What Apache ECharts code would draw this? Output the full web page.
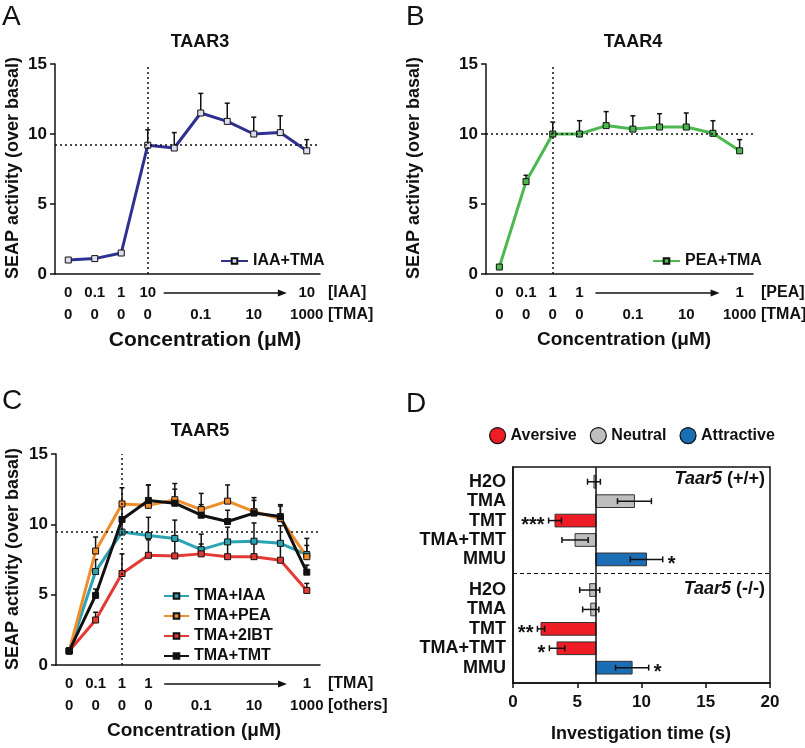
<!DOCTYPE html>
<html><head><meta charset="utf-8">
<script src="https://cdn.jsdelivr.net/npm/echarts@6/dist/echarts.min.js"></script>
<style>html,body{margin:0;padding:0;background:#fff}#c{width:805px;height:748px}</style>
</head><body><div id="c"></div>
<script>
// ---------- DATA ----------
const catKeys = ['p0','p1','p2','p3','p4','p5','p6','p7','p8','p9'];
const yTicks = [0, 5, 10, 15];

// Panel A (TAAR3)
const aRow1 = ['0','0.1','1','10','','','','','','10'];
const aRow2 = ['0','0','0','0','','0.1','','10','','1000'];
const aValues = [1.0, 1.1, 1.5, 9.2, 9.0, 11.5, 10.9, 10.0, 10.1, 8.8];
const aErrTop = [null, null, null, 10.3, 10.1, 12.9, 12.2, 11.2, 11.3, 9.6];
const aRef = 9.2;

// Panel B (TAAR4)
const bRow1 = ['0','0.1','1','1','','','','','','1'];
const bRow2 = ['0','0','0','0','','0.1','','10','','1000'];
const bValues = [0.5, 6.6, 10.0, 10.0, 10.6, 10.35, 10.5, 10.5, 10.05, 8.8];
const bErrTop = [null, 7.05, 10.85, 10.95, 11.6, 11.3, 11.45, 11.5, 10.95, 9.6];
const bRef = 10.0;

// Panel C (TAAR5)
const cRow1 = ['0','0.1','1','1','','','','','','1'];
const cRow2 = ['0','0','0','0','','0.1','','10','','1000'];
const cIAA    = [1.0, 6.65, 9.45, 9.2, 9.0, 8.2, 8.75, 8.8, 8.65, 7.85];
const cIAAErr = [null, 7.5, 10.5, 10.5, 10.3, 9.3, 9.8, 10.1, 9.9, 8.5];
const cPEA    = [1.0, 8.1, 11.45, 11.35, 11.75, 11.05, 11.65, 10.9, 10.4, 7.7];
const cPEAErr = [null, 9.1, 12.6, 12.8, 12.9, 12.2, 12.8, 11.7, 11.4, 9.0];
const c2IBT    = [1.0, 3.2, 6.5, 7.8, 7.75, 7.9, 7.7, 7.7, 7.45, 5.3];
const c2IBTErr = [null, 3.75, 7.9, 8.9, 8.8, 8.6, 8.7, 8.7, 8.5, 5.8];
const cTMT    = [1.0, 4.95, 10.35, 11.7, 11.5, 10.65, 10.2, 10.8, 10.55, 6.6];
const cTMTErr = [null, 5.4, 11.3, 12.8, 12.5, 11.4, 11.0, 11.9, 11.3, 7.1];
const cRef = 9.45;

// Panel D (behaviour)
const dCats = ['H2O', 'TMA', 'TMT', 'TMA+TMT', 'MMU'];
const dWT = [6.3, 9.45, 3.27, 4.83, 10.39];
const dWTErr = [0.5, 1.32, 0.5, 1.02, 1.26];
const dWTClass = ['Neutral', 'Neutral', 'Aversive', 'Neutral', 'Attractive'];
const dWTStars = ['', '', '***', '', '*'];
const dKO = [5.97, 6.05, 2.18, 3.43, 9.27];
const dKOErr = [0.78, 0.63, 0.28, 0.6, 1.29];
const dKOClass = ['Neutral', 'Neutral', 'Aversive', 'Aversive', 'Attractive'];
const dKOStars = ['', '', '**', '*', '*'];
const dBase = 6.45;
const dXTicks = [0, 5, 10, 15, 20];

// ---------- LAYOUT / STYLE ----------
const FF = "'Liberation Sans', Arial, sans-serif";
const INK = '#111';
const groupStart = [0, 5.58];      // row positions of the two genotype groups
const sepPos = 4.74;               // dashed separator
const classColor = {Aversive: '#ee1c24', Neutral: '#bebebe', Attractive: '#1b6db5'};

const chart = echarts.init(document.getElementById('c'), null, {renderer: 'canvas'});

function catAxis(g, r1, r2) {
  return {
    type: 'category', gridIndex: g, data: catKeys,
    axisLine: {onZero: false, lineStyle: {color: INK, width: 1.5}},
    axisTick: {alignWithLabel: true, length: 5, lineStyle: {color: INK, width: 1.5}},
    axisLabel: {
      interval: 0, color: INK, fontFamily: FF, fontWeight: 'bold', fontSize: 15,
      lineHeight: 22, margin: 8,
      formatter: (v, i) => (r1[i] || ' ') + '\n' + (r2[i] || ' ')
    },
    splitLine: {show: false}
  };
}
function valAxis(g) {
  return {
    type: 'value', gridIndex: g, min: yTicks[0], max: yTicks[yTicks.length - 1], interval: 5,
    axisLine: {show: true, onZero: false, lineStyle: {color: INK, width: 1.5}},
    axisTick: {show: true, length: 5, lineStyle: {color: INK, width: 1.5}},
    axisLabel: {color: INK, fontFamily: FF, fontWeight: 'bold', fontSize: 17, margin: 8},
    splitLine: {show: false}
  };
}
function refLines(ref, key) {
  return {
    silent: true, symbol: 'none', label: {show: false}, animation: false,
    lineStyle: {type: [2, 3], color: INK, width: 1.5},
    data: [{yAxis: ref}, {xAxis: key}]
  };
}
function lineSeries(name, g, data, color, fill, markLine) {
  const s = {
    name, type: 'line', xAxisIndex: g, yAxisIndex: g, data,
    symbol: 'rect', symbolSize: 6, z: 3,
    lineStyle: {color, width: 3},
    itemStyle: {color: fill, borderColor: INK, borderWidth: 1}
  };
  if (markLine) s.markLine = markLine;
  return s;
}
function errSeries(g, values, tops) {
  return {
    type: 'custom', xAxisIndex: g, yAxisIndex: g, z: 2, silent: true,
    encode: {x: 0, y: [1, 2]},
    data: values.map((v, i) => [i, v, tops[i]]).filter(d => d[2] != null),
    renderItem: (p, api) => {
      const a = api.coord([api.value(0), api.value(1)]);
      const b = api.coord([api.value(0), api.value(2)]);
      return {type: 'group', children: [
        {type: 'line', shape: {x1: a[0], y1: a[1], x2: b[0], y2: b[1]}, style: {stroke: INK, lineWidth: 1.5}},
        {type: 'line', shape: {x1: b[0] - 2.5, y1: b[1], x2: b[0] + 2.5, y2: b[1]}, style: {stroke: INK, lineWidth: 1.5}}
      ]};
    }
  };
}

// D rows
const dRows = [];
[[dWT, dWTErr, dWTClass, dWTStars], [dKO, dKOErr, dKOClass, dKOStars]].forEach((grp, gi) => {
  dCats.forEach((c, i) => {
    dRows.push({name: c, pos: groupStart[gi] + i, v: grp[0][i], e: grp[1][i], cls: grp[2][i], star: grp[3][i]});
  });
});
const dLabelMap = {};
dRows.forEach(r => { dLabelMap[r.pos.toFixed(2)] = r.name; });

function dBarSeries(cls) {
  return {
    name: cls, type: 'custom', xAxisIndex: 3, yAxisIndex: 3, z: 2,
    itemStyle: {color: classColor[cls], borderColor: '#333', borderWidth: 1},
    encode: {x: 0, y: 1},
    data: dRows.filter(r => r.cls === cls).map(r => [r.v, r.pos]),
    renderItem: (p, api) => {
      const a = api.coord([dBase, api.value(1)]);
      const b = api.coord([api.value(0), api.value(1)]);
      const h = 12.7;
      return {type: 'rect',
        shape: {x: Math.min(a[0], b[0]), y: a[1] - h / 2, width: Math.abs(b[0] - a[0]), height: h},
        style: {fill: classColor[cls], stroke: '#333', lineWidth: 1}};
    }
  };
}
const dErr = {
  type: 'custom', xAxisIndex: 3, yAxisIndex: 3, z: 4, silent: true,
  encode: {x: 0, y: 1},
  data: dRows.map(r => [r.v, r.pos, r.e]),
  renderItem: (p, api) => {
    const v = api.value(0), y = api.value(1), e = api.value(2), star = dRows[p.dataIndex].star;
    const l = api.coord([v - e, y]), rr = api.coord([v + e, y]);
    const ch = [
      {type: 'line', shape: {x1: l[0], y1: l[1], x2: rr[0], y2: rr[1]}, style: {stroke: INK, lineWidth: 1.5}},
      {type: 'line', shape: {x1: l[0], y1: l[1] - 3, x2: l[0], y2: l[1] + 3}, style: {stroke: INK, lineWidth: 1.5}},
      {type: 'line', shape: {x1: rr[0], y1: rr[1] - 3, x2: rr[0], y2: rr[1] + 3}, style: {stroke: INK, lineWidth: 1.5}}
    ];
    if (star) {
      const left = v < dBase;
      ch.push({type: 'text', x: left ? l[0] - 4 : rr[0] + 5, y: l[1] + 5,
        style: {text: star, textAlign: left ? 'right' : 'left', textVerticalAlign: 'middle',
          font: 'bold 20px ' + FF, fill: INK}});
    }
    return {type: 'group', children: ch};
  }
};

const lgText = {fontFamily: FF, fontWeight: 'bold', fontSize: 16, color: INK};
const option = {
  animation: false,
  backgroundColor: '#fff',
  grid: [
    {left: 55, top: 64, width: 265, height: 210},
    {left: 486, top: 64, width: 267, height: 210},
    {left: 56, top: 454, width: 264, height: 211},
    {left: 513, top: 467, width: 257, height: 216, show: true, borderColor: INK, borderWidth: 1.5}
  ],
  xAxis: [
    catAxis(0, aRow1, aRow2), catAxis(1, bRow1, bRow2), catAxis(2, cRow1, cRow2),
    {type: 'value', gridIndex: 3, min: dXTicks[0], max: dXTicks[dXTicks.length - 1], interval: 5,
     axisLine: {onZero: false, lineStyle: {color: INK, width: 1.5}},
     axisTick: {show: true, length: 5, lineStyle: {color: INK, width: 1.5}},
     axisLabel: {color: INK, fontFamily: FF, fontWeight: 'bold', fontSize: 17, margin: 11},
     splitLine: {show: false}}
  ],
  yAxis: [
    valAxis(0), valAxis(1), valAxis(2),
    {type: 'value', gridIndex: 3, inverse: true, min: -0.76, max: 10.37,
     axisLine: {show: true, onZero: false, lineStyle: {color: INK, width: 1.5}},
     axisTick: {show: false},
     axisLabel: {color: INK, fontFamily: FF, fontWeight: 'bold', fontSize: 18, margin: 7,
       customValues: dRows.map(r => r.pos),
       formatter: v => dLabelMap[Number(v).toFixed(2)] || ''},
     splitLine: {show: false}}
  ],
  legend: [
    {data: ['IAA+TMA'], left: 220, top: 253, padding: 0, itemWidth: 27, itemHeight: 7, textStyle: lgText},
    {data: ['PEA+TMA'], left: 652, top: 253, padding: 0, itemWidth: 27, itemHeight: 7, textStyle: lgText},
    {data: ['TMA+IAA', 'TMA+PEA', 'TMA+2IBT', 'TMA+TMT'], orient: 'vertical', left: 163, top: 587, padding: 0,
     itemWidth: 25, itemHeight: 7, itemGap: 2,
     textStyle: Object.assign({lineHeight: 18}, lgText)},
    {data: ['Aversive', 'Neutral', 'Attractive'], left: 489, top: 427, padding: 0, icon: 'circle',
     itemWidth: 16, itemHeight: 16, itemGap: 13,
     itemStyle: {borderColor: INK, borderWidth: 1.2},
     textStyle: lgText}
  ],
  series: [
    lineSeries('IAA+TMA', 0, aValues, '#2f3191', '#dcdcf0', refLines(aRef, 'p3')),
    errSeries(0, aValues, aErrTop),
    lineSeries('PEA+TMA', 1, bValues, '#4cb84f', '#4cb84f', refLines(bRef, 'p2')),
    errSeries(1, bValues, bErrTop),
    lineSeries('TMA+IAA', 2, cIAA, '#2ba3b3', '#2ba3b3', refLines(cRef, 'p2')),
    lineSeries('TMA+PEA', 2, cPEA, '#f08d2c', '#f08d2c'),
    lineSeries('TMA+2IBT', 2, c2IBT, '#e33a36', '#e33a36'),
    lineSeries('TMA+TMT', 2, cTMT, '#111111', '#111111'),
    errSeries(2, cIAA, cIAAErr), errSeries(2, cPEA, cPEAErr),
    errSeries(2, c2IBT, c2IBTErr), errSeries(2, cTMT, cTMTErr),
    dBarSeries('Aversive'),
    Object.assign(dBarSeries('Neutral'), {
      markLine: {silent: true, symbol: 'none', label: {show: false}, animation: false,
        data: [
          {xAxis: dBase, lineStyle: {type: 'solid', color: INK, width: 1.5}},
          {yAxis: sepPos, lineStyle: {type: [4, 3], color: INK, width: 1.2}}
        ]}
    }),
    dBarSeries('Attractive'),
    dErr
  ]
};
chart.setOption(option);

// ---------- annotations ----------
const g = [];
function txt(text, x, y, font, align, extra) {
  return Object.assign({type: 'text', x, y, silent: true,
    style: {text, font: font + ' ' + FF, fill: INK, textAlign: align || 'center', textVerticalAlign: 'middle'}}, extra || {});
}
// panel letters
g.push(txt('A', 2, 17, '28px', 'left'));
g.push(txt('B', 406, 17, '28px', 'left'));
g.push(txt('C', 2, 401, '28px', 'left'));
g.push(txt('D', 406, 404, '28px', 'left'));
// panel titles
g.push(txt('TAAR3', 200, 42, 'bold 18px'));
g.push(txt('TAAR4', 633, 42, 'bold 18px'));
g.push(txt('TAAR5', 200, 431, 'bold 18px'));
// y axis titles
const yt = 'SEAP activity (over basal)';
g.push(txt(yt, 13, 168, 'bold 18px', 'center', {rotation: Math.PI / 2}));
g.push(txt(yt, 414, 168, 'bold 18px', 'center', {rotation: Math.PI / 2}));
g.push(txt(yt, 13, 559, 'bold 18px', 'center', {rotation: Math.PI / 2}));
// x axis titles
g.push(txt('Concentration (μM)', 205, 340, 'bold 21px'));
g.push(txt('Concentration (μM)', 624, 340, 'bold 19px'));
g.push(txt('Concentration (μM)', 194, 731, 'bold 19px'));
g.push(txt('Investigation time (s)', 641, 734, 'bold 18px'));
// D genotype labels
function geno(t, y) {
  return {type: 'text', x: 765, y, silent: true,
    style: {text: '{i|Taar5} ' + t, textAlign: 'right', textVerticalAlign: 'middle',
      font: 'bold 18px ' + FF, fill: INK,
      rich: {i: {fontStyle: 'italic', fontWeight: 'bold', fontSize: 18, fontFamily: FF, fill: INK}}}};
}
g.push(geno('(+/+)', 479));
g.push(geno('(-/-)', 589));

// bracket labels + arrows
const brackets = [['[IAA]', '[TMA]'], ['[PEA]', '[TMA]'], ['[TMA]', '[others]']];
[0, 1, 2].forEach(gi => {
  const p3 = chart.convertToPixel({xAxisIndex: gi, yAxisIndex: gi}, [3, 0]);
  const p4 = chart.convertToPixel({xAxisIndex: gi, yAxisIndex: gi}, [4, 0]);
  const p9 = chart.convertToPixel({xAxisIndex: gi, yAxisIndex: gi}, [9, 0]);
  const step = p4[0] - p3[0];
  const y1 = p3[1] + 19, y2 = p3[1] + 41;
  const xr = p9[0] + step * 0.5 + 8;
  g.push(txt(brackets[gi][0], xr, y1, 'bold 16px', 'left'));
  g.push(txt(brackets[gi][1], xr, y2, 'bold 16px', 'left'));
  const xa = p3[0] + step * 0.6, xb = p3[0] + step * 5.25;
  g.push({type: 'line', silent: true, shape: {x1: xa, y1: y1, x2: xb - 6, y2: y1}, style: {stroke: INK, lineWidth: 1.5}});
  g.push({type: 'polygon', silent: true, shape: {points: [[xb, y1], [xb - 9, y1 - 3.5], [xb - 9, y1 + 3.5]]}, style: {fill: INK}});
});
chart.setOption({graphic: {elements: g}});
</script>
</body></html>
